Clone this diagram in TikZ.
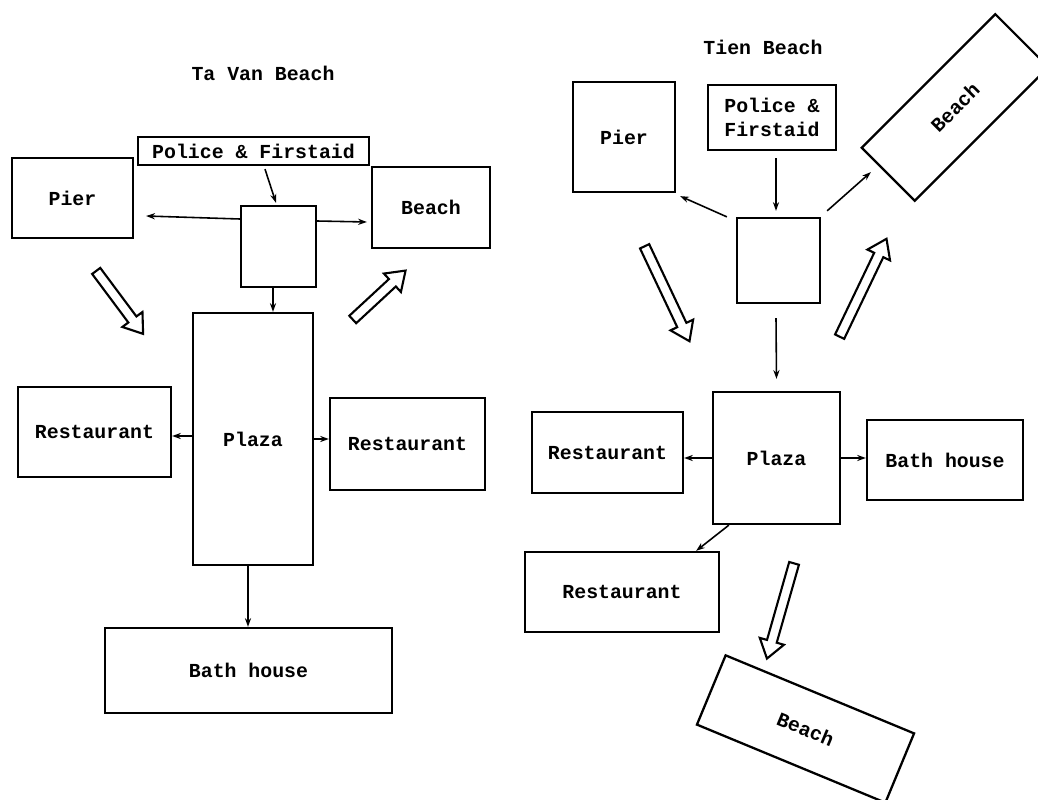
\documentclass[tikz,border=0pt]{standalone}
\usepackage{fontspec}
\setmonofont{Liberation Mono}
\usetikzlibrary{arrows.meta, positioning, shapes.arrows, calc}

\begin{document}
\begin{tikzpicture}[
    x=0.02cm, y=-0.02cm,
    box/.style={draw, line width=1.3pt, inner sep=0pt, align=center,
        font=\ttfamily\bfseries\fontsize{11.3}{14}\selectfont},
    title/.style={font=\ttfamily\bfseries\fontsize{11.3}{14}\selectfont},
    link/.style={line width=0.9pt, -{Stealth[length=5pt, width=3.5pt]}},
    hollow/.style={single arrow, draw, fill=white, line width=1.2pt,
        inner xsep=0pt, inner ysep=0.08cm, single arrow head extend=0.15cm,
        single arrow tip angle=70}
]
\useasboundingbox (0,0) rectangle (1038,800);

% Ta Van Beach (left)
\node[title] (tvtitle) at (263,73) {Ta Van Beach};
\node[box, minimum width=4.62cm, minimum height=0.56cm] (tvpolice) at (253.5,151) {Police \& Firstaid};
\node[box, minimum width=2.42cm, minimum height=1.6cm] (tvpier) at (72.5,198) {Pier};
\node[box, minimum width=1.5cm, minimum height=1.62cm] (tvhub) at (278.5,246.5) {};
\node[box, minimum width=2.36cm, minimum height=1.62cm] (tvbeach) at (431,207.5) {Beach};
\node[box, minimum width=2.4cm, minimum height=5.04cm] (tvplaza) at (253,439) {Plaza};
\node[box, minimum width=3.06cm, minimum height=1.8cm] (tvrestw) at (94.5,432) {Restaurant};
\node[box, minimum width=3.1cm, minimum height=1.84cm] (tvreste) at (407.5,444) {Restaurant};
\node[box, minimum width=5.74cm, minimum height=1.7cm] (tvbath) at (248.5,670.5) {Bath house};

\draw[link] ([xshift=0.23cm, yshift=-0.06cm]tvpolice.south) -- ([xshift=-0.05cm, yshift=0.04cm]tvhub.north);
\draw[link] ([yshift=0.55cm]tvhub.west) -- ([xshift=0.24cm, yshift=-0.36cm]tvpier.east);
\draw[link] ([yshift=0.51cm]tvhub.east) -- ([xshift=-0.08cm, yshift=-0.29cm]tvbeach.west);
\draw[link] ([xshift=-0.11cm]tvhub.south) -- ([xshift=0.4cm]tvplaza.north);
\draw[link] ([yshift=0.06cm]tvplaza.west) -- ([yshift=0.06cm]tvplaza.west -| tvrestw.east);
\draw[link] (tvplaza.east) -- (tvplaza.east -| tvreste.west);
\draw[link] ([xshift=-0.1cm]tvplaza.south) -- ([xshift=-0.1cm]tvplaza.south |- tvbath.north);

% walking directions
\node[hollow, rotate=-53.3, minimum height=1.57cm] (tvin) at (117.5,299.5) {};
\node[hollow, rotate=42.8, minimum height=1.44cm] (tvout) at (376.5,297.5) {};

% Tien Beach (right)
\node[title] (tntitle) at (763,47) {Tien Beach};
\node[box, minimum width=2.04cm, minimum height=2.2cm] (tnpier) at (624,137) {Pier};
\node[box, minimum width=2.56cm, minimum height=1.3cm] (tnpolice) at (772,117.5) {Police \&\\Firstaid};
\node[box, minimum width=1.66cm, minimum height=1.7cm] (tnhub) at (778.5,260.5) {};
\node[box, rotate=45, minimum width=3.78cm, minimum height=1.5cm] (tnbeachn) at (955,107.5) {Beach};
\node[box, minimum width=2.54cm, minimum height=2.64cm] (tnplaza) at (776.5,458) {Plaza};
\node[box, minimum width=3.02cm, minimum height=1.62cm] (tnrestw) at (607.5,452.5) {Restaurant};
\node[box, minimum width=3.12cm, minimum height=1.6cm] (tnbath) at (945,460) {Bath house};
\node[box, minimum width=3.88cm, minimum height=1.6cm] (tnrests) at (622,592) {Restaurant};
\node[box, rotate=-22.5, minimum width=4.08cm, minimum height=1.5cm] (tnbeachs) at (805.5,729) {Beach};

\draw[link] ([xshift=0.08cm, yshift=-0.14cm]tnpolice.south) -- ([xshift=-0.05cm, yshift=0.12cm]tnhub.north);
\draw[link] ([xshift=-0.18cm]tnhub.north west) -- ([xshift=0.08cm, yshift=-0.06cm]tnpier.south east);
\draw[link] ([xshift=0.12cm, yshift=0.12cm]tnhub.north east) -- ([xshift=-0.33cm, yshift=0.06cm]tnbeachn.west);
\draw[link] ([xshift=-0.05cm, yshift=-0.28cm]tnhub.south) -- ([yshift=0.24cm]tnplaza.north);
\draw[link] (tnplaza.west) -- (tnplaza.west -| tnrestw.east);
\draw[link] (tnplaza.east) -- (tnplaza.east -| tnbath.west);
\draw[link] ([xshift=0.34cm]tnplaza.south west) -- ([xshift=-0.48cm]tnrests.north east);

% walking directions
\node[hollow, rotate=-64.7, minimum height=2.1cm] (tnin) at (665.5,290.5) {};
\node[hollow, rotate=64.4, minimum height=2.17cm] (tnout) at (861.5,291) {};
\node[hollow, rotate=-105.9, minimum height=1.98cm] (tndown) at (781.5,607.5) {};
\end{tikzpicture}
\end{document}
